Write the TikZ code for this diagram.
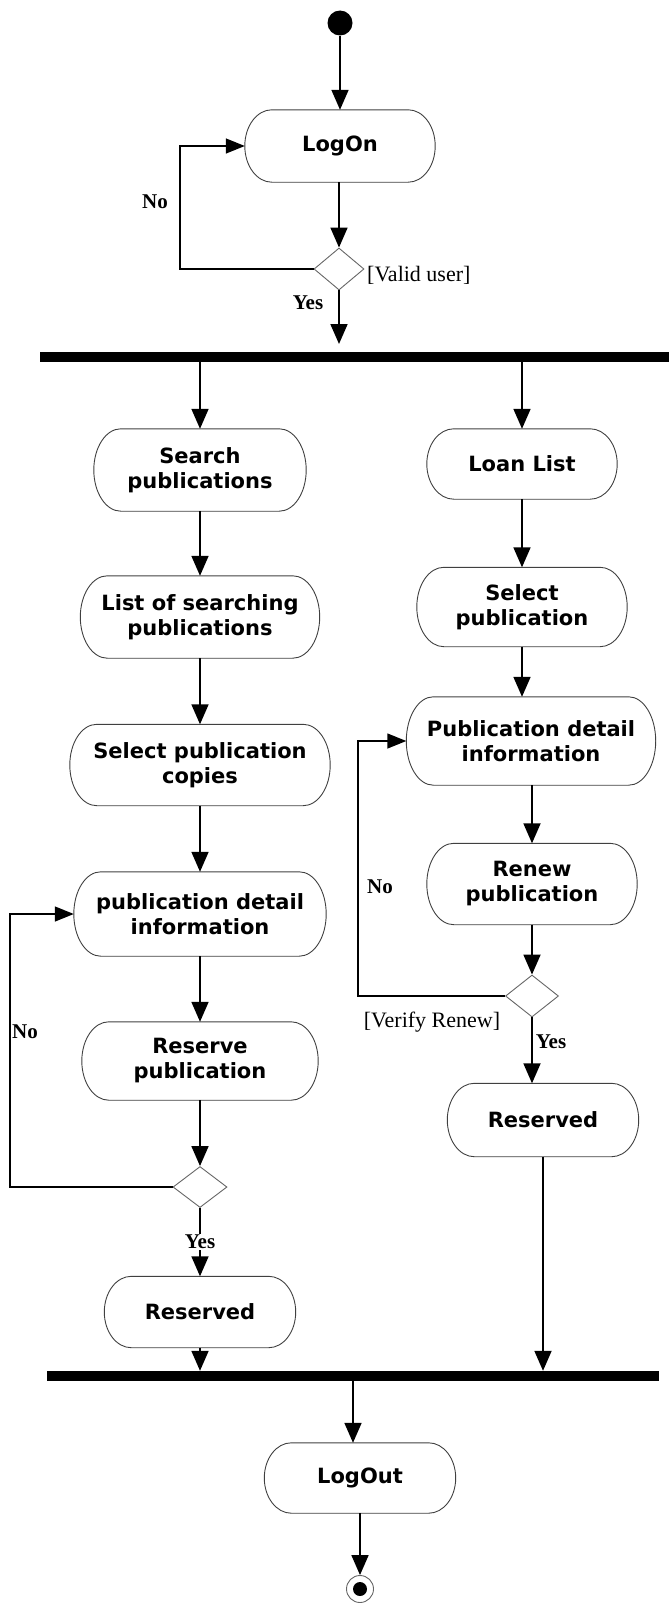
\documentclass[tikz,border=0pt]{standalone}
\usepackage{fontspec}
\usetikzlibrary{arrows.meta,shapes.geometric,calc}
\newfontfamily\boxfont{DejaVu Sans}
\newfontfamily\lblfont{Liberation Serif}
\tikzset{
  act/.style={rectangle, draw=none, align=center, inner sep=0pt,
    font=\boxfont\bfseries\fontsize{21}{25}\selectfont},
  pillline/.style={draw=black!75, line width=0.9pt},
  dec/.style={diamond, draw=black!60, line width=0.9pt, fill=white, inner sep=0pt},
  bar/.style={rectangle, fill=black, draw=none, inner sep=0pt},
  flow/.style={line width=1.8pt, -{Triangle[length=20pt,width=17pt]}},
  back/.style={line width=1.4pt, -{Triangle[length=19pt,width=15pt]}},
  yn/.style={font=\lblfont\bfseries\fontsize{21}{21}\selectfont, inner sep=1pt},
  guard/.style={font=\lblfont\fontsize{22}{22}\selectfont, inner sep=0pt},
}
\newcommand\pilloutline[1]{%
  \draw[pillline] let \p1=(#1.north west), \p2=(#1.south east) in
    (\x1+27pt,\y1) -- (\x2-27pt,\y1)
    arc[start angle=90, end angle=-90, x radius=27pt, y radius={(\y1-\y2)/2}]
    -- (\x1+27pt,\y2)
    arc[start angle=270, end angle=90, x radius=27pt, y radius={(\y1-\y2)/2}]
    -- cycle;}
\begin{document}
\begin{tikzpicture}[x=1pt,y=-1pt]
\useasboundingbox (0,0) rectangle (669,1603);
% start / end
\node[circle, fill=black, minimum size=25pt, inner sep=0pt] (start) at (340,23) {};
\node[act, minimum width=190pt, minimum height=72pt] (logon) at (340,146) {LogOn};
\node[dec, minimum width=50pt, minimum height=42pt] (d1) at (339,269) {};
\node[bar, minimum width=629pt, minimum height=10pt] (bar1) at (354.5,357) {};
% left column
\node[act, minimum width=212pt, minimum height=82pt] (srch) at (200,470) {Search\\publications};
\node[act, minimum width=239pt, minimum height=82pt] (lst) at (200,617) {List of searching\\publications};
\node[act, minimum width=260pt, minimum height=81pt] (cpy) at (200,765) {Select publication\\copies};
\node[act, minimum width=252pt, minimum height=84pt] (pdl) at (200,914) {publication detail\\information};
\node[act, minimum width=236pt, minimum height=78pt] (rsv) at (200,1061) {Reserve\\publication};
\node[dec, minimum width=54pt, minimum height=41pt] (dl) at (200,1187) {};
\node[act, minimum width=191pt, minimum height=71pt] (resl) at (200,1312) {Reserved};
% right column
\node[act, minimum width=190pt, minimum height=70pt] (loan) at (522,464) {Loan List};
\node[act, minimum width=210pt, minimum height=79pt] (selp) at (522,607) {Select\\publication};
\node[act, minimum width=249pt, minimum height=88pt] (pdr) at (531,741) {Publication detail\\information};
\node[act, minimum width=210pt, minimum height=81pt] (ren) at (532,884) {Renew\\publication};
\node[dec, minimum width=53pt, minimum height=42pt] (dr) at (532,996) {};
\node[act, minimum width=191pt, minimum height=73pt] (resr) at (543,1120) {Reserved};
% bottom
\node[bar, minimum width=612pt, minimum height=10pt] (bar2) at (353,1376) {};
\node[act, minimum width=191pt, minimum height=70pt] (logout) at (360,1478) {LogOut};
\node[circle, draw=black!60, line width=0.9pt, fill=white, minimum size=27pt, inner sep=0pt] (finish) at (360,1589) {};
\node[circle, fill=black, minimum size=14pt, inner sep=0pt] (finishdot) at (finish.center) {};
% outlines of the activity nodes
\pilloutline{logon}
\pilloutline{srch}
\pilloutline{lst}
\pilloutline{cpy}
\pilloutline{pdl}
\pilloutline{rsv}
\pilloutline{resl}
\pilloutline{loan}
\pilloutline{selp}
\pilloutline{pdr}
\pilloutline{ren}
\pilloutline{resr}
\pilloutline{logout}
% helper coordinates
\coordinate (j1) at (339,344);
\coordinate (lp1) at (180,200);
\coordinate (lp2) at (10,1000);
\coordinate (lp3) at (358,900);
\coordinate (jx) at (353,1400);
% top connectors
\draw[flow] (start) -- (logon);
\draw[flow] (logon.south -| d1) -- (d1.north);
\draw[flow] (d1.south) -- (j1);
\draw[back] (d1.west) -- (d1.west -| lp1) -- (logon.west -| lp1) -- (logon.west);
\draw[flow] (bar1.south -| srch) -- (srch.north);
\draw[flow] (bar1.south -| loan) -- (loan.north);
% left column connectors
\draw[flow] (srch) -- (lst);
\draw[flow] (lst) -- (cpy);
\draw[flow] (cpy) -- (pdl);
\draw[flow] (pdl) -- (rsv);
\draw[flow] (rsv) -- (dl);
\draw[back] (dl.west) -- (dl.west -| lp2) -- (pdl.west -| lp2) -- (pdl.west);
\draw[flow] (dl) -- (resl);
\draw[flow] (resl.south) -- (resl.south |- bar2.north);
% right column connectors
\draw[flow] (loan) -- (selp);
\draw[flow] (selp.south) -- (selp.south |- pdr.north);
\draw[flow] (pdr.south -| ren) -- (ren.north);
\draw[flow] (ren) -- (dr);
\draw[back] (dr.west) -- (dr.west -| lp3) -- (pdr.west -| lp3) -- (pdr.west);
\draw[flow] (dr.south) -- (dr.south |- resr.north);
\draw[flow] (resr.south) -- (resr.south |- bar2.north);
% bottom connectors
\draw[flow] (bar2.south -| jx) -- (logout.north -| jx);
\draw[flow] (logout) -- (finish);
% labels
\node[yn] (no1) at (155,202) {No};
\node[guard, anchor=west] (g1) at (367,275) {[Valid user]};
\node[yn] (yes1) at (308,303) {Yes};
\node[yn] (no2) at (25,1032) {No};
\node[yn, fill=white] (yes2) at (200,1242) {Yes};
\node[yn] (no3) at (380,887) {No};
\node[guard] (g2) at (432,1022) {[Verify Renew]};
\node[yn] (yes3) at (551,1042) {Yes};
\end{tikzpicture}
\end{document}
